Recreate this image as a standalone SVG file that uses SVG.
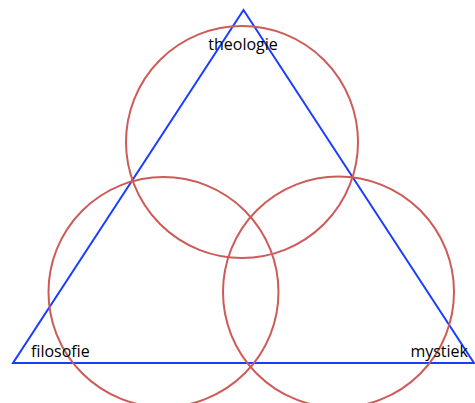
<svg xmlns="http://www.w3.org/2000/svg" width="475" height="403" viewBox="0 0 475 403">
<style>
.c{fill:none;stroke:#cd5b58;stroke-width:2}
.t{fill:none;stroke:#1a3cff;stroke-width:2;stroke-linejoin:miter}
.l{font-family:"Open Sans","Liberation Sans",sans-serif;font-size:16px;fill:#000}
</style>
<rect width="475" height="403" fill="#fff"/>
<g id="connectors">
<polygon class="t" points="243.5,10 13,363 474,363"/>
</g>
<g id="theologie">
<circle class="c" cx="242" cy="142" r="116"/>
<text class="l" x="243" y="50" text-anchor="middle">theologie</text>
</g>
<g id="filosofie">
<circle class="c" cx="163.5" cy="292" r="115"/>
<text class="l" x="31" y="357">filosofie</text>
</g>
<g id="mystiek">
<circle class="c" cx="338.5" cy="292" r="115.5"/>
<text class="l" x="468" y="357" text-anchor="end">mystiek</text>
</g>
</svg>
